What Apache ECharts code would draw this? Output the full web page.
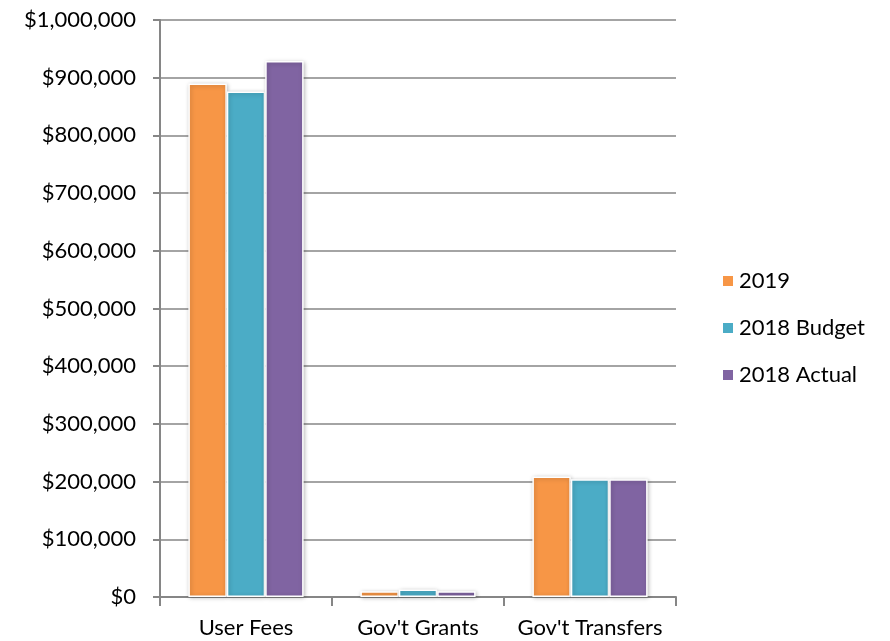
<!DOCTYPE html>
<html><head><meta charset="utf-8">
<script src="https://cdn.jsdelivr.net/npm/echarts@6/dist/echarts.min.js"></script>
<style>html,body{margin:0;padding:0;background:#fff}#c{width:890px;height:641px}</style>
</head><body><div id="c"></div>
<script>
const categories = ["User Fees", "Gov't Grants", "Gov't Transfers"];
const seriesNames = ["2019", "2018 Budget", "2018 Actual"];
const v2019 = [890000, 10000, 209000];
const vBudget = [876000, 13000, 204000];
const vActual = [929000, 10000, 204000];
const colors = ["#F79646", "#4BACC6", "#8064A2"];
const values = [v2019, vBudget, vActual];
const FONT = "Lato, 'Open Sans', sans-serif";

const chart = echarts.init(document.getElementById('c'));
chart.setOption({
  animation: false,
  grid: {left: 160, right: 214, top: 20, bottom: 44},
  legend: {
    orient: 'vertical', left: 716, top: 265, itemWidth: 12, itemHeight: 12, itemGap: 25,
    textStyle: {fontFamily: FONT, fontSize: 22, color: '#000'},
    icon: 'rect',
    data: seriesNames
  },
  xAxis: {
    type: 'category', data: categories,
    axisLine: {lineStyle: {color: '#868686', width: 2}},
    axisTick: {show: true, interval: 0, length: 9, lineStyle: {color: '#868686', width: 2}},
    axisLabel: {interval: 0, hideOverlap: false, fontFamily: FONT, fontSize: 22, color: '#000', margin: 20}
  },
  yAxis: {
    type: 'value', min: 0, max: 1000000, interval: 100000,
    axisLine: {show: true, lineStyle: {color: '#868686', width: 2}},
    axisTick: {show: true, length: 7, lineStyle: {color: '#868686', width: 2}},
    splitLine: {lineStyle: {color: '#868686', width: 1.5}},
    axisLabel: {fontFamily: FONT, fontSize: 22, color: '#000', margin: 24,
      formatter: v => '$' + v.toLocaleString('en-US')}
  },
  series: seriesNames.map((n, i) => ({
    name: n, type: 'bar', data: values[i],
    barGap: '0%', barCategoryGap: '33%',
    itemStyle: {color: colors[i], borderColor: '#fff', borderWidth: 1.5,
      shadowBlur: 4, shadowColor: 'rgba(0,0,0,0.25)', shadowOffsetX: 1, shadowOffsetY: 1}
  }))
});
</script></body></html>
